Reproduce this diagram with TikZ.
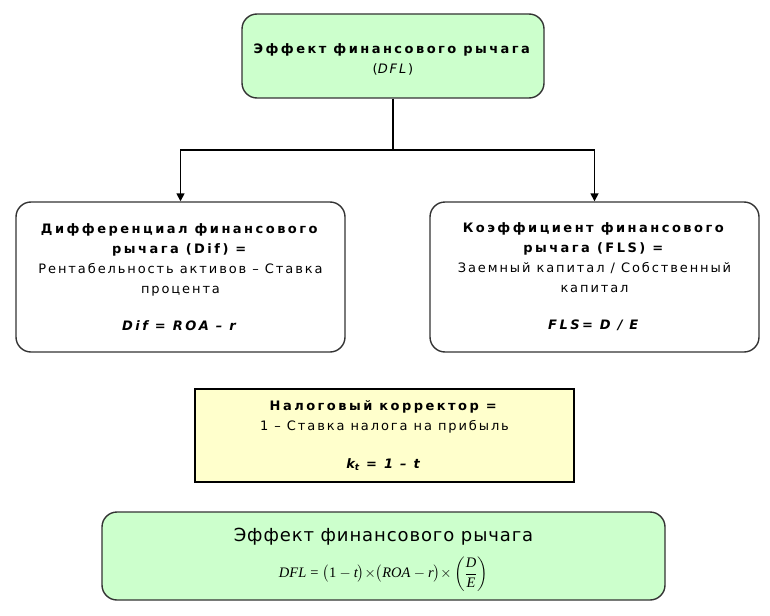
\documentclass[tikz,border=0pt]{standalone}
\usepackage{amsmath}
\usepackage{fontspec}
\setmainfont{DejaVu Sans}[LetterSpace=14.6, BoldFeatures={LetterSpace=19}, BoldItalicFeatures={LetterSpace=19}]
\newfontfamily\bigtitle{DejaVu Sans}[LetterSpace=5]
\newfontfamily\tms{Liberation Serif}
\newcommand{\ti}[1]{\text{\tms\itshape #1}}
\usepackage{tikz}
\usetikzlibrary{arrows.meta}

\definecolor{dflgreen}{HTML}{CCFFCC}
\definecolor{ktyellow}{HTML}{FFFFCC}

\begin{document}
\begin{tikzpicture}[x=1pt,y=-1pt]
     % Define styles
     \tikzstyle{txt} = [align=center, inner sep=0pt, text=black, font=\fontsize{13}{20}\selectfont]
     \tikzstyle{roundbox} = [txt, draw=black!80, line width=1.4pt, rounded corners=15pt]
     \tikzstyle{greenbox} = [roundbox, fill=dflgreen]
     \tikzstyle{whitebox} = [roundbox, fill=white, minimum width=329pt, minimum height=150pt]
     \tikzstyle{yellowbox} = [txt, draw=black, line width=1.3pt, fill=ktyellow]
     \tikzstyle{link} = [line width=1.6pt, -{Triangle[length=8pt,width=8pt]}]

     % Margins of the picture
     \useasboundingbox (0,0) rectangle (770,615);

     % DFL on top
     \node[greenbox, minimum width=302pt, minimum height=84pt] (dfl) at (393,56)
          {\rule{0pt}{17pt}\textbf{Эффект финансового рычага}\\(\textit{DFL})};

     % Differential and leverage ratio
     \node[whitebox] (dif) at (180.5,277)
          {\textbf{Дифференциал финансового}\\\textbf{рычага (Dif) =}\\
           Рентабельность активов – Ставка\\процента\\[17pt]
           \textbf{\textit{Dif = ROA – r}}};
     \node[whitebox] (fls) at (594.5,277)
          {\textbf{Коэффициент финансового}\\\textbf{рычага (FLS) =}\\
           Заемный капитал / Собственный\\капитал\\[17pt]
           \textbf{\textit{FLS= D / E}}};

     % Connectors
     \coordinate (fork) at (393,150);
     \draw[link] (dfl.south) -- (fork) -| (dif.north);
     \draw[link] (fork) -| (fls.north);

     % Tax corrector
     \node[yellowbox, minimum width=379pt, minimum height=93pt] (kt) at (384.5,435.5)
          {\textbf{Налоговый корректор =}\\1 – Ставка налога на прибыль\\[18pt]
           \textbf{\textit{k\raisebox{-0.35ex}{\fontsize{9}{9}\selectfont t} = 1 – t}}};

     % Final formula
     \node[greenbox, minimum width=563pt, minimum height=88pt] (total) at (383.5,556)
          {{\bigtitle\fontsize{18}{20}\selectfont\rule{0pt}{21pt}Эффект финансового рычага}\\[10pt]
           \fontsize{14.5}{16}\selectfont
           $\ti{DFL}\mathrel{\text{\tms=}}\bigl(\text{\tms 1}-\ti{t}\bigr){\times}\bigl(\ti{ROA}-\ti{r}\bigr){\times}\left(\dfrac{\ti{D}}{\ti{E}}\right)$};
\end{tikzpicture}
\end{document}
